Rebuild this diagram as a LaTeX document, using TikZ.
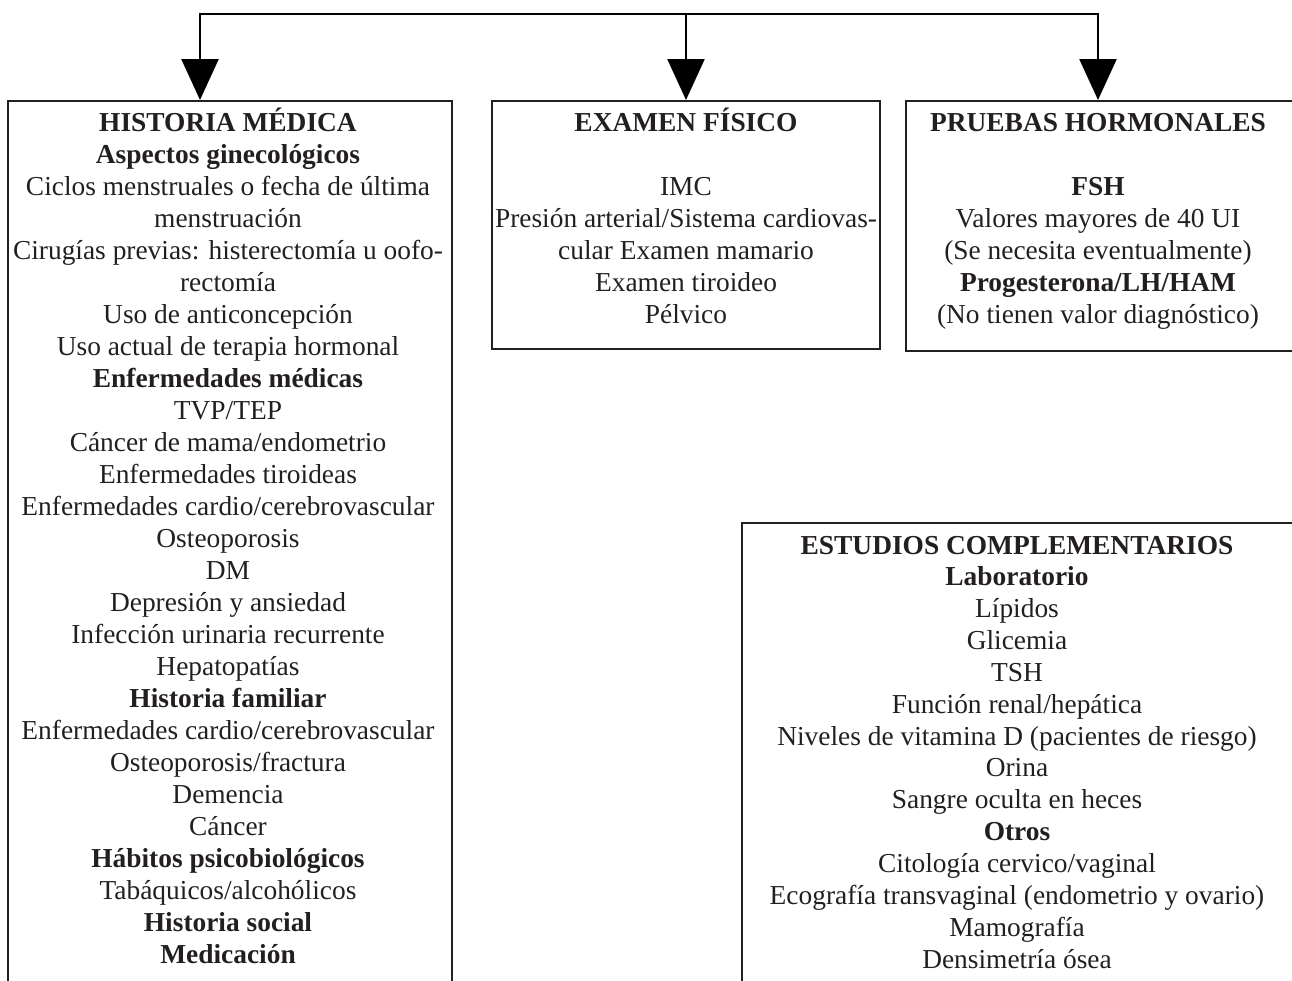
\documentclass[tikz,border=0pt]{standalone}
\usepackage{fontspec}
\setmainfont{Liberation Serif}
\usetikzlibrary{arrows.meta}
\definecolor{ink}{HTML}{231F20}
\begin{document}
\begin{tikzpicture}[x=0.5pt,y=-0.5pt,
  txt/.style={anchor=base, inner sep=0pt, text=ink, font=\fontsize{13.7}{16}\selectfont},
  panel/.style={draw=ink, line width=0.75pt, anchor=north west, inner sep=0pt},
  arr/.style={draw=black, line width=1.2pt, -{Triangle[width=18.5pt,length=20.5pt]}}]
\useasboundingbox (0,0) rectangle (1292,981);
\clip (0,0) rectangle (1292,981);
% panels
\node[panel, minimum width=222pt, minimum height=460pt] (hist) at (7,100) {};
\node[panel, minimum width=194pt, minimum height=124pt] (exam) at (491,100) {};
\node[panel, minimum width=197pt, minimum height=125pt] (prue) at (905,100) {};
\node[panel, minimum width=280pt, minimum height=260pt] (estu) at (741,522) {};
% connectors
\coordinate (t1) at (200,14);
\coordinate (t2) at (686,14);
\coordinate (t3) at (1098,14);
\draw[arr] (t2) -- (t1) -- (t1 |- hist.north);
\draw[arr] (t2) -- (t3) -- (t3 |- prue.north);
\draw[arr] (t2) -- (t2 |- exam.north);
% HISTORIA MEDICA
\foreach [count=\i] \t in {
  {\textbf{HISTORIA MÉDICA}},
  {\textbf{Aspectos ginecológicos}},
  {Ciclos menstruales o fecha de última},
  {menstruación},
  {Cirugías previas: histerectomía u oofo-},
  {rectomía},
  {Uso de anticoncepción},
  {Uso actual de terapia hormonal},
  {\textbf{Enfermedades médicas}},
  {TVP/TEP},
  {Cáncer de mama/endometrio},
  {Enfermedades tiroideas},
  {Enfermedades cardio/cerebrovascular},
  {Osteoporosis},
  {DM},
  {Depresión y ansiedad},
  {Infección urinaria recurrente},
  {Hepatopatías},
  {\textbf{Historia familiar}},
  {Enfermedades cardio/cerebrovascular},
  {Osteoporosis/fractura},
  {Demencia},
  {Cáncer},
  {\textbf{Hábitos psicobiológicos}},
  {Tabáquicos/alcohólicos},
  {\textbf{Historia social}},
  {\textbf{Medicación}}}
  \node[txt] (h\i) at (228,{131+32*(\i-1)}) {\t};
% EXAMEN FISICO
\node[txt] (e1) at (686,131) {\textbf{EXAMEN FÍSICO}};
\node[txt] (e2) at (686,195) {IMC};
\node[txt] (e3) at (686,227) {Presión arterial/Sistema cardiovas-};
\node[txt] (e4) at (686,259) {cular Examen mamario};
\node[txt] (e5) at (686,291) {Examen tiroideo};
\node[txt] (e6) at (686,323) {Pélvico};
% PRUEBAS HORMONALES
\node[txt] (p1) at (1098,131) {\textbf{PRUEBAS HORMONALES}};
\node[txt] (p2) at (1098,195) {\textbf{FSH}};
\node[txt] (p3) at (1098,227) {Valores mayores de 40 UI};
\node[txt] (p4) at (1098,259) {(Se necesita eventualmente)};
\node[txt] (p5) at (1098,291) {\textbf{Progesterona/LH/HAM}};
\node[txt] (p6) at (1098,323) {(No tienen valor diagnóstico)};
% ESTUDIOS COMPLEMENTARIOS
\foreach [count=\i] \t in {
  {\textbf{ESTUDIOS COMPLEMENTARIOS}},
  {\textbf{Laboratorio}},
  {Lípidos},
  {Glicemia},
  {TSH},
  {Función renal/hepática},
  {Niveles de vitamina D (pacientes de riesgo)},
  {Orina},
  {Sangre oculta en heces},
  {\textbf{Otros}},
  {Citología cervico/vaginal},
  {Ecografía transvaginal (endometrio y ovario)},
  {Mamografía},
  {Densimetría ósea}}
  \node[txt] (s\i) at (1017,{554+31.85*(\i-1)}) {\t};
\end{tikzpicture}
\end{document}
